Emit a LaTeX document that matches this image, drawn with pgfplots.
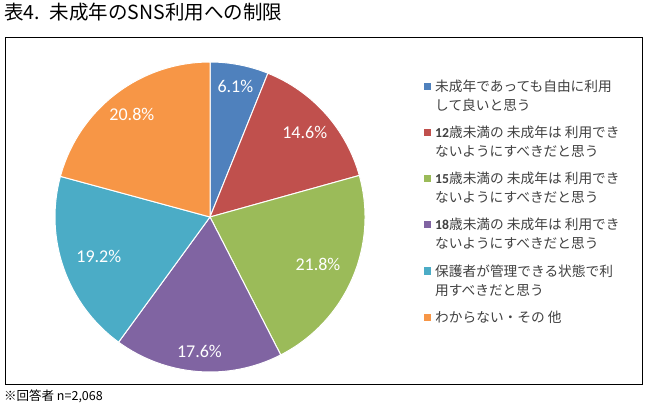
\documentclass[border=0pt]{standalone}
\usepackage{pgfplots}
\pgfplotsset{compat=1.18}
\usepackage{pgfplotstable}
\usepackage{fontspec}
\newfontfamily\cjk{Noto Sans CJK JP}
\newfontfamily\calibri{Carlito}

\definecolor{s0}{HTML}{4F81BD}
\definecolor{s1}{HTML}{C0504D}
\definecolor{s2}{HTML}{9BBB59}
\definecolor{s3}{HTML}{8064A2}
\definecolor{s4}{HTML}{4BACC6}
\definecolor{s5}{HTML}{F79646}
\definecolor{textgray}{HTML}{404040}

% share (%) and label radius (fraction of pie radius)
\pgfplotstableread{
pct  lr
6.1  0.86
14.6 0.82
21.8 0.76
17.6 0.87
19.2 0.76
20.8 0.83
}\piedata

\begin{document}
\begin{tikzpicture}[
  pielabel/.style={font=\calibri\fontsize{18}{20}\selectfont, text=white, inner sep=0},
  lt/.style={anchor=base west, inner sep=0, text=textgray,
    font=\cjk\fontsize{13.7}{16}\selectfont}]
\begin{scope}[x=1pt,y=1pt]
  \useasboundingbox (0,0) rectangle (647,407);
  \node[anchor=base west, inner sep=0, font=\cjk\fontsize{19.5}{22}\selectfont]
    at (4,387) {表4.\hspace{0.5em}未成年のSNS利用への制限};
  \draw[line width=0.8pt] (5,23) rectangle (642,370);
  \node[anchor=base west, inner sep=0, font=\cjk\fontsize{12.5}{14}\selectfont]
    at (4,7) {※回答者 n=2,068};
\end{scope}

\begin{axis}[
  at={(210pt,190pt)}, anchor=origin,
  scale only axis, width=310pt, height=310pt,
  xmin=-1, xmax=1, ymin=-1, ymax=1,
  hide axis, clip=false,
]
  \pgfmathsetmacro\total{0}
  \pgfplotsforeachungrouped \i in {0,...,5}{%
    \pgfplotstablegetelem{\i}{pct}\of\piedata
    \pgfmathsetmacro\total{\total+\pgfplotsretval}%
  }
  \pgfmathsetmacro\cum{0}
  \pgfplotsforeachungrouped \i in {0,...,5}{%
    \pgfplotstablegetelem{\i}{pct}\of\piedata \let\v\pgfplotsretval
    \pgfplotstablegetelem{\i}{lr}\of\piedata \let\lr\pgfplotsretval
    \pgfmathsetmacro\sa{90-(\cum/\total)*360}%
    \pgfmathsetmacro\cum{\cum+\v}%
    \pgfmathsetmacro\sb{90-(\cum/\total)*360}%
    \pgfmathsetmacro\sm{(\sa+\sb)/2}%
    \pgfmathsetmacro\cx{cos(\sa)}\pgfmathsetmacro\cy{sin(\sa)}%
    \pgfmathsetmacro\tx{\lr*cos(\sm)}\pgfmathsetmacro\ty{\lr*sin(\sm)}%
    \edef\tmp{%
      \noexpand\fill[s\i, draw=white, line width=1pt, line join=round]
        (axis cs:0,0) -- (axis cs:\cx,\cy)
        arc[start angle=\sa, end angle=\sb, radius=1] -- cycle;
      \noexpand\node[pielabel] at (axis cs:\tx,\ty) {\v\noexpand\%};
    }\tmp
  }
\end{axis}

\begin{scope}[x=1pt,y=1pt]
  \def\lx{435}
  \fill[s0] (424,316.5) rectangle (431,323.5);
  \node[lt] at (\lx,315) {未成年であっても自由に利用};
  \node[lt] at (\lx,296) {して良いと思う};
  \fill[s1] (424,270.5) rectangle (431,277.5);
  \node[lt] at (\lx,269) {{\calibri\bfseries 12}歳未満の 未成年は 利用でき};
  \node[lt] at (\lx,250) {ないようにすべきだと思う};
  \fill[s2] (424,224.5) rectangle (431,231.5);
  \node[lt] at (\lx,223) {{\calibri\bfseries 15}歳未満の 未成年は 利用でき};
  \node[lt] at (\lx,204) {ないようにすべきだと思う};
  \fill[s3] (424,178.5) rectangle (431,185.5);
  \node[lt] at (\lx,177) {{\calibri\bfseries 18}歳未満の 未成年は 利用でき};
  \node[lt] at (\lx,158) {ないようにすべきだと思う};
  \fill[s4] (424,132.5) rectangle (431,139.5);
  \node[lt] at (\lx,131) {保護者が管理できる状態で利};
  \node[lt] at (\lx,112) {用すべきだと思う};
  \fill[s5] (424,86.5) rectangle (431,93.5);
  \node[lt] at (\lx,85) {わからない・その 他};
\end{scope}
\end{tikzpicture}
\end{document}
